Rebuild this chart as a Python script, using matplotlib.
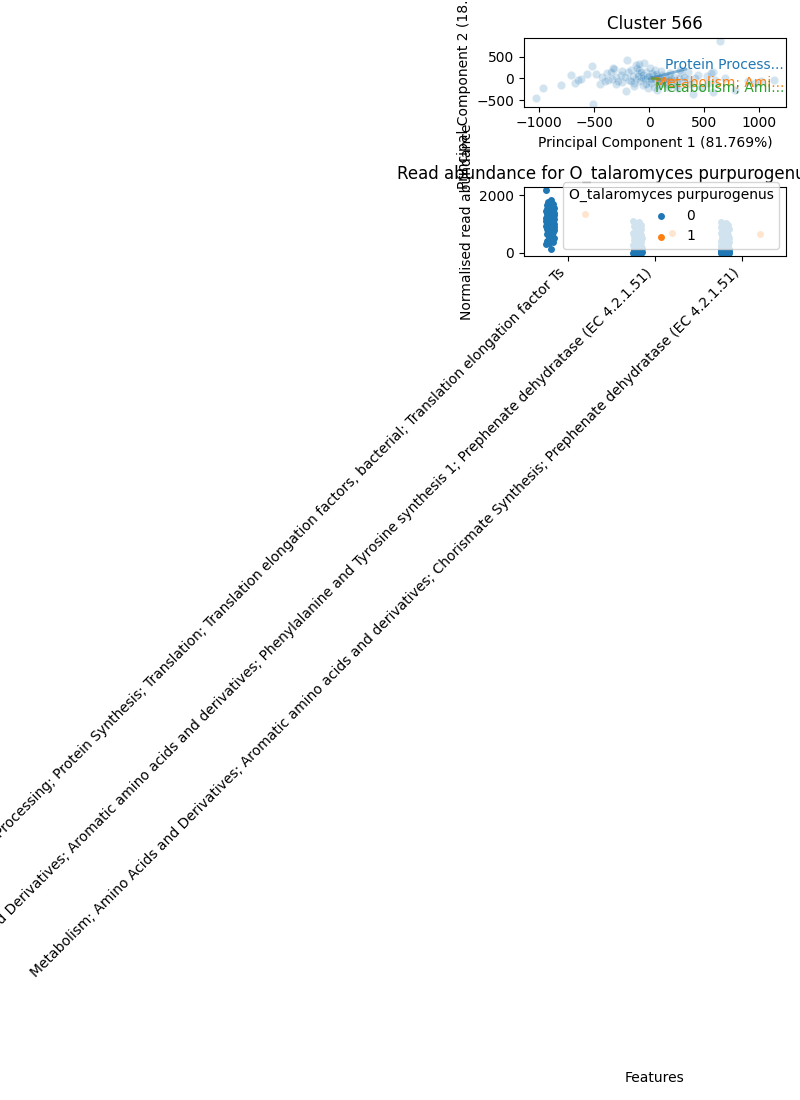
import numpy as np
import matplotlib
matplotlib.use("Agg")
from matplotlib import pyplot as plt

# PCA scores for the samples of cluster 566
pc1 = [-1028, -966, -798, -709, -676, -648, -517, -511, -480, -446, -385, -373,
       -318, -303, -333, -257, -242, -202, -196, -180, -208, -135, -119, -104,
       -89, -73, -58, -43, -28, -12, 34, 49, 64, 110, 141, 171, 217, 263, 294,
       355, 401, 446, 523, 538, 640, 691, 783, 1012, 1135, 584, 584,
       -150, -120, -100, -80, -60, -40, -20, 0, 10, 20, 30, 50, 70, 80, 90, 100,
       120, 130, 150, 160, 180, 200, 230, 250, 270, 300, 320, -250, -280, -220,
       -160, -140, -110, -70, -30, 5, 40, 60, 75, 110, 140, 190, 240, 280, 340,
       380, 420, 470, 560, 600, 900, 960, -560, -620, -430, -350, -300, -400,
       -160, -60, 15, -5, 100, 180, -330, -90]
pc2 = [-438, -230, -161, 77, -100, -38, 284, -575, 100, -131, 115, -38,
       207, 38, -23, 77, -77, 422, 154, -38, -284, -115, 307, 115,
       192, 38, -154, 346, 154, -230, 77, 192, -38, -115, 38, -192, -38, -230, 115,
       154, -361, 77, 54, -115, 860, 0, -269, -62, -39, 152, -308,
       60, -20, 50, -60, 90, -10, 40, -50, 20, -100, 130, -20, 60, -150, 10, -60,
       90, -30, 20, -80, 60, -10, 30, -100, 10, -50, 40, 160, -60, 30,
       200, -170, 240, 150, -120, 240, -200, 110, -260, 160, -130, 120, -170, 200, -10,
       -120, 20, -200, 130, -30, -60, -100, 100, -20, 40, 150, -120, -60,
       -50, 10, -10, 60, 0, -40, 230, 330]
explained = [81.769, 18.231]

features = [
    "Protein Processing; Protein Synthesis; Translation; Translation elongation factors, bacterial; Translation elongation factor Ts",
    "Metabolism; Amino Acids and Derivatives; Aromatic amino acids and derivatives; Phenylalanine and Tyrosine synthesis 1; Prephenate dehydratase (EC 4.2.1.51)",
    "Metabolism; Amino Acids and Derivatives; Aromatic amino acids and derivatives; Chorismate Synthesis; Prephenate dehydratase (EC 4.2.1.51)",
]
# loading vectors (scaled) and where their labels sit
loadings = [(360, 230), (280, -50), (120, -20)]
label_pos = [(686, 306), (641, -93), (641, -216)]

# normalised read abundance per feature, split by O_talaromyces purpurogenus
abund_0 = [
    [2170, 1820, 1760, 1700, 1650, 1640, 1600, 1580, 1550, 1520, 1500, 1480, 1460, 1440,
     1420, 1400, 1390, 1370, 1350, 1330, 1310, 1300, 1280, 1260, 1250, 1240, 1220, 1200,
     1190, 1180, 1160, 1150, 1140, 1120, 1110, 1100, 1090, 1080, 1060, 1050, 1040, 1020,
     1010, 1000, 980, 960, 950, 930, 910, 900, 880, 860, 840, 820, 800, 780, 760, 740,
     720, 700, 660, 620, 560, 500, 450, 420, 380, 330, 300, 150],
    [1100, 1060, 1020, 980, 950, 920, 880, 850, 820, 800, 770, 740, 720, 700, 680, 650,
     630, 610, 590, 570, 550, 530, 510, 490, 470, 450, 430, 410, 390, 370, 350, 330, 310,
     300, 280, 260, 250, 230, 210, 200, 190, 170, 160, 150, 140, 130, 120, 110, 100, 90,
     80, 70, 60, 55, 50, 45, 40, 35, 30, 25, 20, 15, 10, 8, 5, 3, 2, 1, 0, 0],
    [1080, 1040, 1000, 970, 930, 900, 870, 840, 810, 790, 760, 730, 710, 690, 660, 640,
     620, 600, 580, 560, 540, 520, 500, 480, 460, 440, 420, 400, 380, 360, 340, 320, 300,
     290, 270, 250, 240, 220, 200, 190, 180, 165, 150, 140, 130, 120, 110, 100, 90, 80,
     70, 65, 60, 50, 45, 40, 35, 30, 25, 20, 15, 12, 10, 7, 5, 3, 2, 1, 0, 0],
]
abund_1 = [[1330], [670], [665]]
hue_levels = ["0", "1"]
organism = "O_talaromyces purpurogenus"

colors = ["#1f77b4", "#ff7f0e", "#2ca02c"]

fig = plt.figure(figsize=(8, 11), dpi=100)
ax1 = fig.add_axes([0.655, 0.903, 0.3275, 0.0627])
ax2 = fig.add_axes([0.655, 0.7673, 0.3275, 0.0627])

# --- PCA biplot ---
ax1.scatter(pc1, pc2, s=36, color=colors[0], alpha=0.2, edgecolor="white", linewidth=0.75)
for i, feat in enumerate(features):
    dx, dy = loadings[i]
    ax1.annotate("", xy=(dx, dy), xytext=(0, 0),
                 arrowprops=dict(arrowstyle="-", color=colors[i], alpha=0.5, lw=2))
    short = feat[:15] + "..."
    ax1.text(label_pos[i][0], label_pos[i][1], short, color=colors[i], ha="center", va="center")
ax1.set_title("Cluster 566")
ax1.set_xlabel("Principal Component 1 ({:.3f}%)".format(explained[0]))
ax1.set_ylabel("Principal Component 2 ({:.3f}%)".format(explained[1]))

# --- strip plot ---
width = 0.8
for lvl, data in enumerate([abund_0, abund_1]):
    offset = (lvl - 0.5) * width / 2
    for j, vals in enumerate(data):
        n = len(vals)
        jit = ((np.arange(n) * 0.618034) % 1 - 0.5) * 0.1 if n > 1 else np.zeros(1)
        ax2.scatter(j + offset + jit, vals, s=25, color=colors[lvl], linewidth=0,
                    label=hue_levels[lvl] if j == 0 else None)
ax2.set_xlim(-0.5, len(features) - 0.5)
ax2.set_xticks(range(len(features)))
ax2.set_xticklabels(features, rotation=45, ha="right")
ax2.set_title("Read abundance for " + organism, x=0.313)
ax2.set_ylabel("Normalised read abundance")
ax2.set_xlabel("Features")
ax2.xaxis.set_label_coords(0.8187, 0.0264, transform=fig.transFigure)
ax2.legend(title=organism, loc="lower right")

fig.savefig("out.png")
